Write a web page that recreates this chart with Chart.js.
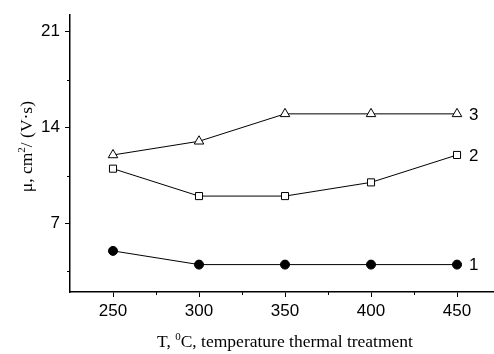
<!DOCTYPE html>
<html>
<head>
<meta charset="utf-8">
<script src="https://cdn.jsdelivr.net/npm/chart.js@4/dist/chart.umd.min.js"></script>
<style>
html,body{margin:0;padding:0;background:#fff;}
canvas{display:block;}
</style>
</head>
<body>
<canvas id="c" width="494" height="354"></canvas>
<script>
// Data
const temperatures = [250, 300, 350, 400, 450];
const series1 = [5, 4, 4, 4, 4];      // filled circles
const series2 = [11, 9, 9, 10, 12];   // open squares
const series3 = [12, 13, 15, 15, 15]; // open triangles
const seriesLabels = ['1', '2', '3'];
const xMajorTicks = [250, 300, 350, 400, 450];
const xMinorTicks = [275, 325, 375, 425];
const yMajorTicks = [7, 14, 21];
const yMinorTicks = [3.5, 10.5, 17.5];

const toPts = arr => arr.map((v, i) => ({x: temperatures[i], y: v}));

const decor = {
  id: 'decor',
  afterDraw(chart) {
    const ctx = chart.ctx;
    const xs = chart.scales.x, ys = chart.scales.y;
    const a = chart.chartArea;
    ctx.save();
    ctx.strokeStyle = '#000';
    ctx.lineWidth = 1;
    // minor ticks
    ctx.beginPath();
    xMinorTicks.forEach(v => {
      const px = Math.round(xs.getPixelForValue(v)) + 0.5;
      ctx.moveTo(px, a.bottom); ctx.lineTo(px, a.bottom + 3);
    });
    yMinorTicks.forEach(v => {
      const py = Math.round(ys.getPixelForValue(v)) + 0.5;
      ctx.moveTo(a.left, py); ctx.lineTo(a.left - 3, py);
    });
    ctx.stroke();
    // series labels at line ends
    ctx.fillStyle = '#000';
    ctx.font = '17px "Liberation Sans", Arial, sans-serif';
    ctx.textBaseline = 'middle';
    ctx.textAlign = 'left';
    chart.data.datasets.forEach((ds, i) => {
      const last = ds.data[ds.data.length - 1];
      ctx.fillText(seriesLabels[i], xs.getPixelForValue(last.x) + 12, ys.getPixelForValue(last.y) + 1);
    });
    // axis titles (serif, with superscripts)
    const big = '17.5px "Liberation Serif", "Times New Roman", serif';
    const sup = '11px "Liberation Serif", "Times New Roman", serif';
    function drawParts(parts, cx, cy) {
      let total = 0;
      parts.forEach(p => { ctx.font = p.s ? sup : big; p.w = ctx.measureText(p.t).width; total += p.w; });
      let x = cx - total / 2;
      ctx.textAlign = 'left';
      ctx.textBaseline = 'alphabetic';
      parts.forEach(p => {
        ctx.font = p.s ? sup : big;
        ctx.fillText(p.t, x, cy + (p.s ? -7.5 : 0));
        x += p.w;
      });
    }
    drawParts([{t: 'T, '}, {t: '0', s: true}, {t: 'C, temperature thermal treatment'}], (xs.getPixelForValue(250) + xs.getPixelForValue(450)) / 2, 347);
    ctx.save();
    ctx.translate(32, (a.top + a.bottom) / 2 - 7);
    ctx.rotate(-Math.PI / 2);
    drawParts([{t: 'μ, cm'}, {t: '2', s: true}, {t: '/ (V·s)'}], 0, 0);
    ctx.restore();
    ctx.restore();
  }
};

new Chart(document.getElementById('c'), {
  type: 'line',
  data: {
    datasets: [
      {data: toPts(series1), borderColor: '#000', borderWidth: 1, pointStyle: 'circle', pointRadius: 4.5,
       pointBackgroundColor: '#000', pointBorderColor: '#000', pointBorderWidth: 1, clip: false},
      {data: toPts(series2), borderColor: '#000', borderWidth: 1, pointStyle: 'rect', pointRadius: 5,
       pointBackgroundColor: '#fff', pointBorderColor: '#000', pointBorderWidth: 1, clip: false},
      {data: toPts(series3), borderColor: '#000', borderWidth: 1, pointStyle: 'triangle', pointRadius: 5.5,
       pointBackgroundColor: '#fff', pointBorderColor: '#000', pointBorderWidth: 1, clip: false}
    ]
  },
  options: {
    responsive: false,
    animation: false,
    layout: {autoPadding: false, padding: {top: 11, right: 0, left: 0, bottom: 0}},
    plugins: {legend: {display: false}, tooltip: {enabled: false}},
    elements: {line: {tension: 0}},
    scales: {
      x: {
        type: 'linear', min: 225, max: 471.5,
        afterBuildTicks: s => { s.ticks = xMajorTicks.map(v => ({value: v})); },
        afterFit: s => { s.height = 62; },
        border: {display: true, color: '#000', width: 1.5},
        grid: {drawOnChartArea: false, drawTicks: true, tickLength: 5, color: '#000', lineWidth: 1},
        ticks: {color: '#000', padding: 4, maxRotation: 0, font: {family: '"Liberation Sans", Arial, sans-serif', size: 17}}
      },
      y: {
        type: 'linear', min: 2, max: 22.2,
        afterBuildTicks: s => { s.ticks = yMajorTicks.map(v => ({value: v})); },
        afterFit: s => { s.width = 70; },
        border: {display: true, color: '#000', width: 1.5},
        grid: {drawOnChartArea: false, drawTicks: true, tickLength: 5, color: '#000', lineWidth: 1},
        ticks: {color: '#000', padding: 5, font: {family: '"Liberation Sans", Arial, sans-serif', size: 17}}
      }
    }
  },
  plugins: [decor]
});
</script>
</body>
</html>
